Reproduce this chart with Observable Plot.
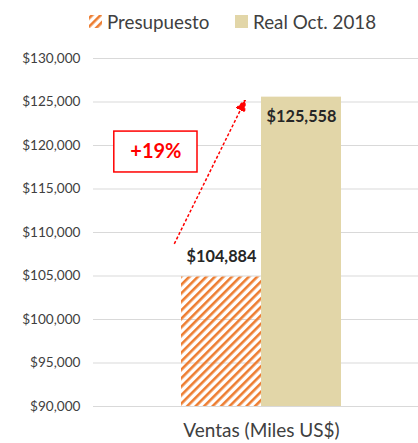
<!DOCTYPE html>
<html>
<head>
<meta charset="utf-8">
<script src="https://cdn.jsdelivr.net/npm/d3@7"></script>
<script src="https://cdn.jsdelivr.net/npm/@observablehq/plot@0.6"></script>
<style>
  html, body { margin: 0; padding: 0; background: #fff; }
  body { width: 418px; height: 443px; overflow: hidden; font-family: Lato, "Liberation Sans", sans-serif; }
  #legend { position: relative; height: 40px; color: #404040; font-size: 18.8px; }
  .item { position: absolute; top: 8px; height: 26px; display: flex; align-items: center; white-space: nowrap; }
  .swatch { width: 13px; height: 13px; margin-right: 5px; flex: none; display: block; }
</style>
</head>
<body>
<div id="legend"></div>
<div id="chart"></div>
<script>
// ---- data ----
const categories = ["Presupuesto", "Real Oct. 2018"];
const values = [104884, 125558];
const valueLabels = ["$104,884", "$125,558"];
const yTicks = [90000, 95000, 100000, 105000, 110000, 115000, 120000, 125000, 130000];
const xLabel = "Ventas (Miles US$)";
const changeLabel = ["+19%"];
// annotation anchors in data units (x: bar index units, y: value)
const arrowStart = [-0.09, 108700];
const arrowEnd = [0.775, 124800];
const boxX = [-0.84, 0.2];
const boxY = [116900, 121600];

const colors = ["#ED7D31", "#E2D6A8"];

// ---- legend ----
const legend = document.getElementById("legend");
const lefts = [89, 235];
categories.forEach((c, i) => {
  const it = document.createElement("div");
  it.className = "item";
  it.style.left = lefts[i] + "px";
  const sw = i === 0
    ? `<svg class="swatch" viewBox="0 0 13 13"><defs><pattern id="hatchL" width="6" height="6" patternUnits="userSpaceOnUse" patternTransform="rotate(45) translate(1,0)"><rect width="2.6" height="6" fill="${colors[0]}"/></pattern></defs><rect width="13" height="13" fill="url(#hatchL)"/></svg>`
    : `<svg class="swatch" viewBox="0 0 13 13"><rect width="13" height="13" fill="${colors[1]}"/></svg>`;
  it.innerHTML = sw + `<span>${c}</span>`;
  legend.appendChild(it);
});

// ---- chart ----
const data = categories.map((c, i) => ({category: c, index: i, value: values[i], label: valueLabels[i]}));

function filledArrow(color) {
  const ns = "http://www.w3.org/2000/svg";
  const m = document.createElementNS(ns, "marker");
  m.setAttribute("viewBox", "-7 -5 11 10");
  m.setAttribute("markerWidth", 11);
  m.setAttribute("markerHeight", 10);
  m.setAttribute("markerUnits", "userSpaceOnUse");
  m.setAttribute("orient", "auto");
  const p = document.createElementNS(ns, "path");
  p.setAttribute("d", "M-7,-4.5L4,0L-7,4.5Z");
  p.setAttribute("fill", color);
  m.appendChild(p);
  return m;
}

const fmt = d3.format(",");
const annot = [{
  x1: arrowStart[0], y1: arrowStart[1], x2: arrowEnd[0], y2: arrowEnd[1],
  bx1: boxX[0], bx2: boxX[1], by1: boxY[0], by2: boxY[1], text: changeLabel[0]
}];

const chart = Plot.plot({
  width: 418,
  height: 403,
  marginTop: 18,
  marginBottom: 37,
  marginLeft: 93,
  marginRight: -11,
  style: {fontFamily: "Lato, 'Liberation Sans', sans-serif", color: "#404040", background: "white", overflow: "hidden"},
  x: {domain: [-1.1, 3.1]},
  y: {domain: [yTicks[0], yTicks[yTicks.length - 1]]},
  marks: [
    Plot.gridY(yTicks, {stroke: "#d9d9d9", strokeOpacity: 1, strokeWidth: 1}),
    Plot.axisY(yTicks, {tickSize: 0, tickPadding: 13, tickFormat: d => "$" + fmt(d), fontSize: 13.6, label: null}),
    Plot.axisX({ticks: [], tickSize: 0, label: xLabel, labelAnchor: "center", labelArrow: "none", labelOffset: 30, fontSize: 19}),
    Plot.rect(data, {filter: d => d.index === 0, x1: "index", x2: d => d.index + 1, y1: yTicks[0], y2: "value", fill: "url(#hatch)"}),
    Plot.rect(data, {filter: d => d.index === 1, x1: "index", x2: d => d.index + 1, y1: yTicks[0], y2: "value", fill: colors[1]}),
    Plot.text(data, {filter: d => d.index === 0, x: d => d.index + 0.5, y: "value", text: "label", dy: -20, fontSize: 16.3, fontWeight: "bold", fill: "#262626"}),
    Plot.text(data, {filter: d => d.index === 1, x: d => d.index + 0.5, y: "value", text: "label", dy: 20, fontSize: 16.3, fontWeight: "bold", fill: "#262626"}),
    Plot.link(annot, {x1: "x1", y1: "y1", x2: "x2", y2: "y2", stroke: "#ff0000", strokeWidth: 1.5, strokeDasharray: "3,2", markerEnd: filledArrow}),
    Plot.rect(annot, {x1: "bx1", x2: "bx2", y1: "by1", y2: "by2", fill: "white", stroke: "#ff0000", strokeWidth: 1.5}),
    Plot.text(annot, {x: d => (d.bx1 + d.bx2) / 2, y: d => (d.by1 + d.by2) / 2, text: "text", fontSize: 20, fontWeight: "bold", fill: "#ff0000"})
  ]
});

const ns = "http://www.w3.org/2000/svg";
const defs = document.createElementNS(ns, "defs");
defs.innerHTML = `<pattern id="hatch" width="6" height="6" patternUnits="userSpaceOnUse" patternTransform="rotate(45)"><rect width="2.6" height="6" fill="${colors[0]}"/></pattern>`;
chart.insertBefore(defs, chart.firstChild);
document.getElementById("chart").appendChild(chart);
</script>
</body>
</html>
